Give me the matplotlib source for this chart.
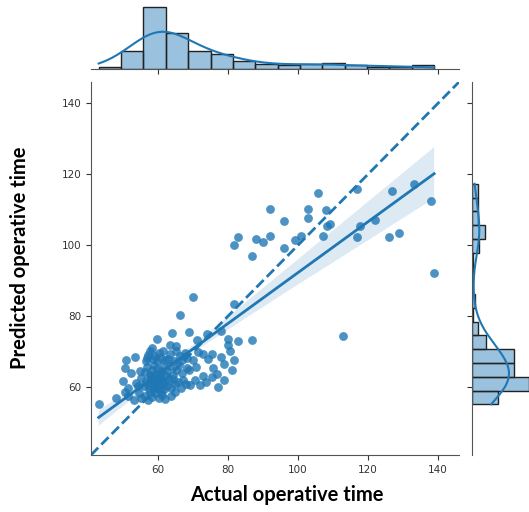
import matplotlib
matplotlib.use("Agg")
import matplotlib.pyplot as plt
import seaborn as sns
import numpy as np

# actual vs predicted operative time
actual = [
    43.0, 48.0,
    51.3, 53.0, 54.6, 50.5, 55.2, 49.9, 51.3, 53.6, 54.2, 55.0, 52.3, 50.4, 54.8, 50.9, 53.4,
    56.2, 57.1, 58.2, 59.0, 60.1, 61.2, 57.8, 60.7, 62.0,
    56.0, 56.6, 57.3, 57.9, 58.4, 58.8, 59.2, 59.6, 60.0, 60.3, 60.6, 60.9, 61.3, 61.6, 61.9, 57.0, 58.6, 59.9,
    56.3, 56.9, 57.6, 58.2, 58.9, 59.4, 59.8, 60.4, 60.8, 61.4, 61.8, 58.0,
    56.4, 57.2, 57.8, 58.5, 59.1, 59.7, 60.2, 60.9, 61.5, 62.0, 56.9, 58.3,
    63.6, 64.9, 62.5, 63.0, 63.7, 64.3, 64.9, 65.6, 66.4, 67.2, 68.0,
    62.6, 63.4, 64.2, 65.1, 66.0, 66.9, 68.2,
    62.8, 63.5, 64.4, 65.2, 66.1, 66.8, 67.7, 68.3, 65.0,
    69.2, 70.6, 72.0, 73.8, 68.7, 70.9, 72.9, 70.1, 71.5, 72.9, 74.2,
    75.3, 78.9, 77.2, 75.6, 78.9, 81.1, 76.8, 75.3, 77.9, 80.5,
    69.9, 68.9, 74.1, 78.0, 71.0, 80.1, 80.1, 66.3, 63.9, 59.6, 63.4,
    82.9, 81.8, 86.9, 81.8, 82.9, 86.9, 81.8,
    92.0, 88.0, 90.1, 92.0,
    96.1, 99.1, 96.1,
    105.8, 102.9, 102.9, 100.8,
    108.0, 108.2, 109.1, 107.1, 112.9,
    116.8, 117.7, 116.8,
    122.0, 126.0,
    126.9, 128.9,
    133.2, 137.9, 138.9,
]
predicted = [
    55.1, 57.0,
    57.4, 56.3, 58.2, 58.6, 56.8, 61.6, 59.6, 61.0, 60.2, 62.4, 63.9, 65.2, 64.5, 67.5, 68.3,
    57.5, 56.4, 57.2, 58.3, 56.9, 57.8, 58.7, 58.5, 56.6,
    60.2, 61.8, 59.5, 62.3, 60.7, 59.3, 61.5, 62.6, 60.1, 59.6, 61.2, 62.4, 60.5, 59.4, 61.7, 60.9, 61.9, 60.8,
    64.1, 65.6, 63.3, 64.8, 66.2, 63.6, 65.0, 63.2, 64.4, 65.8, 63.7, 63.1,
    67.4, 69.1, 70.2, 67.8, 68.6, 67.2, 69.5, 68.1, 70.0, 67.6, 68.2, 71.0,
    57.4, 58.5, 60.3, 61.9, 59.6, 62.2, 60.8, 61.5, 59.8, 62.0, 60.9,
    64.4, 65.9, 63.5, 64.9, 66.1, 63.8, 65.2,
    68.0, 69.4, 67.3, 70.1, 68.6, 67.5, 69.7, 68.2, 71.5,
    60.6, 62.0, 60.5, 61.4, 64.9, 65.5, 63.0, 67.5, 69.8, 69.4, 68.0,
    62.8, 61.9, 60.0, 65.2, 66.6, 64.9, 63.7, 69.4, 68.3, 70.1,
    85.4, 75.5, 75.0, 75.8, 73.2, 73.6, 71.7, 80.2, 75.3, 73.4, 71.7,
    102.3, 99.9, 96.9, 83.5, 72.9, 73.2, 67.7,
    110.3, 101.6, 101.0, 102.7,
    106.7, 101.3, 99.3,
    114.6, 110.3, 107.6, 102.7,
    109.8, 105.4, 105.9, 102.5, 74.3,
    115.9, 105.4, 102.3,
    107.0, 102.3,
    115.2, 103.4,
    117.3, 112.3, 92.2,
]
lims = [40.8, 146.0]

blue = sns.color_palette()[0]

fig = plt.figure(figsize=(5.29, 5.12), dpi=100)
W, H = 529.0, 512.0
ax = fig.add_axes([91 / W, 1 - 455 / H, 368 / W, 373 / H])
ax_top = fig.add_axes([91 / W, 1 - 69 / H, 368 / W, 65 / H], sharex=ax)
ax_right = fig.add_axes([471.7 / W, 1 - 455 / H, 60 / W, 373 / H], sharey=ax)

sns.regplot(x=actual, y=predicted, ax=ax, color=blue, seed=0,
            scatter_kws=dict(s=40, alpha=0.8, linewidths=0),
            line_kws=dict(lw=2))
ax.plot(lims, lims, "--", color=blue, lw=2)
ax.set_xlim(lims)
ax.set_ylim(lims)
ax.set_xticks([60, 80, 100, 120, 140])
ax.set_yticks([60, 80, 100, 120, 140])

sns.histplot(x=actual, bins=15, kde=True, ax=ax_top, color=blue, alpha=0.45,
             edgecolor="#222222", linewidth=1, line_kws=dict(lw=1.5))
sns.histplot(y=predicted, bins=16, kde=True, ax=ax_right, color=blue, alpha=0.45,
             edgecolor="#222222", linewidth=1, line_kws=dict(lw=1.5))

for a in (ax, ax_top, ax_right):
    for s in ("top", "right"):
        a.spines[s].set_visible(False)
    a.tick_params(labelsize=7.5, length=3.5, colors="#333333", labelcolor="#333333")
    for s in a.spines.values():
        s.set_color("#555555")
ax_top.spines["left"].set_visible(False)
ax_top.tick_params(left=False, labelleft=False, labelbottom=False)
ax_top.set_ylabel("")
ax_right.spines["bottom"].set_visible(False)
ax_right.tick_params(bottom=False, labelbottom=False, labelleft=False)
ax_right.set_xlabel("")

ax.set_xlabel("Actual operative time", fontsize=14.5, fontweight="bold",
              family=["Lato", "DejaVu Sans"])
ax.set_ylabel("Predicted operative time", fontsize=14.5, fontweight="bold",
              family=["Lato", "DejaVu Sans"])
ax.xaxis.set_label_coords(0.533, -0.08)
ax.yaxis.set_label_coords(-0.166, 0.528)

fig.savefig("out.png", dpi=100)
